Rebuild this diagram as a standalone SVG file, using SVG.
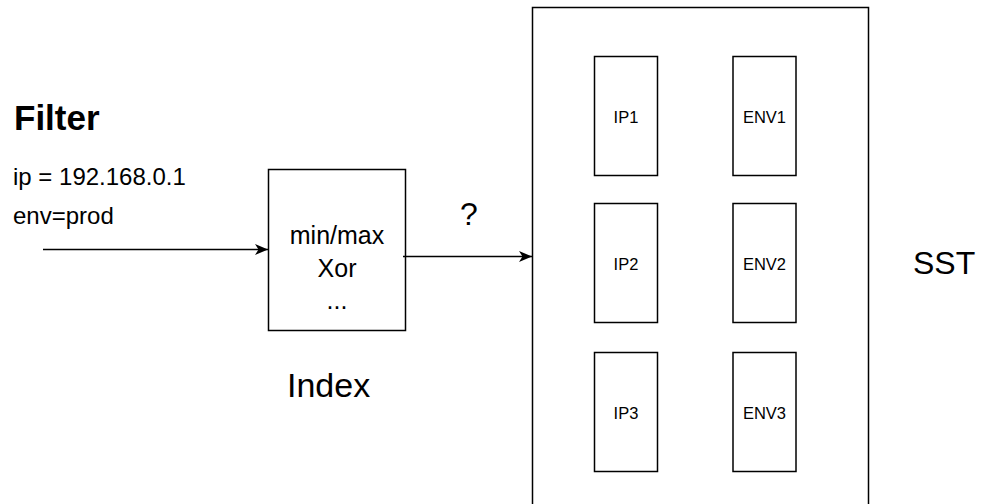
<svg xmlns="http://www.w3.org/2000/svg" width="986" height="504" viewBox="0 0 986 504">
  <style>
    .box { fill: #ffffff; stroke: #000000; stroke-width: 1.5; }
    .edge { fill: none; stroke: #000000; stroke-width: 1.3; }
    .t { font-family: "Liberation Sans", Arial, Helvetica, sans-serif; fill: #000000; }
    .cell { font-size: 16.5px; text-anchor: middle; }
    .idx { font-size: 25px; text-anchor: middle; }
  </style>
  <defs>
    <marker id="arrow" markerUnits="userSpaceOnUse" markerWidth="16" markerHeight="14" refX="13" refY="7" orient="auto">
      <path d="M13,7 L0,1.5 L3.5,7 L0,12.5 Z" fill="#000000"/>
    </marker>
  </defs>

  <rect width="986" height="504" fill="#ffffff"/>

  <!-- query filter -->
  <g id="filter">
    <text class="t" x="14" y="129.5" font-size="35" font-weight="bold">Filter</text>
    <text class="t" x="13" y="185" font-size="24">ip = 192.168.0.1</text>
    <text class="t" x="13" y="224" font-size="24">env=prod</text>
  </g>

  <!-- index block -->
  <g id="index">
    <rect class="box" x="268.5" y="169.5" width="137" height="161"/>
    <text class="t idx" x="337" y="243.5">min/max</text>
    <text class="t idx" x="337" y="276.5">Xor</text>
    <text class="t idx" x="337" y="308.5">...</text>
    <text class="t" x="287" y="396.5" font-size="34">Index</text>
  </g>

  <!-- SST file with per-column blocks -->
  <g id="sst">
    <rect class="box" x="532.5" y="7.5" width="336" height="510"/>
    <text class="t" x="913" y="273.5" font-size="32">SST</text>
  </g>
  <g id="ip1">
    <rect class="box" x="594.5" y="56.5" width="63" height="119"/>
    <text class="t cell" x="626" y="122.5">IP1</text>
  </g>
  <g id="ip2">
    <rect class="box" x="594.5" y="203.5" width="63" height="119"/>
    <text class="t cell" x="626" y="269.5">IP2</text>
  </g>
  <g id="ip3">
    <rect class="box" x="594.5" y="352.5" width="63" height="119"/>
    <text class="t cell" x="626" y="418.5">IP3</text>
  </g>
  <g id="env1">
    <rect class="box" x="733" y="56.5" width="63" height="119"/>
    <text class="t cell" x="764.5" y="122.5">ENV1</text>
  </g>
  <g id="env2">
    <rect class="box" x="733" y="203.5" width="63" height="119"/>
    <text class="t cell" x="764.5" y="269.5">ENV2</text>
  </g>
  <g id="env3">
    <rect class="box" x="733" y="352.5" width="63" height="119"/>
    <text class="t cell" x="764.5" y="418.5">ENV3</text>
  </g>

  <!-- connectors -->
  <g id="connectors">
    <line class="edge" x1="43" y1="249.5" x2="268" y2="249.5" marker-end="url(#arrow)"/>
    <line class="edge" x1="403" y1="256.5" x2="532" y2="256.5" marker-end="url(#arrow)"/>
    <text class="t" x="460" y="225" font-size="32">?</text>
  </g>
</svg>
